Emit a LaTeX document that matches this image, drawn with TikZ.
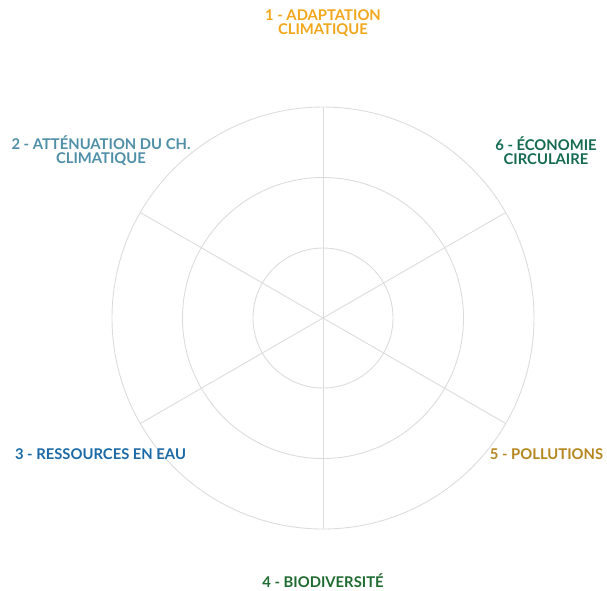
\documentclass[tikz,border=0pt]{standalone}
\usepackage{fontspec}
\setmainfont{Lato}
\usepackage{xcolor}
\usetikzlibrary{positioning}

\definecolor{adapt}{HTML}{F2A71B}
\definecolor{attenu}{HTML}{4F8FA8}
\definecolor{eau}{HTML}{1B69A5}
\definecolor{biodiv}{HTML}{1E6B30}
\definecolor{pollu}{HTML}{B5861E}
\definecolor{circu}{HTML}{146B50}
\definecolor{grille}{HTML}{DCDCDC}

\begin{document}
\begin{tikzpicture}[
  x=1pt, y=1pt,
  ring/.style={draw=grille, line width=0.9pt},
  spoke/.style={draw=grille, line width=0.9pt},
  axelabel/.style={font=\bfseries\fontsize{14.8}{14}\selectfont, align=center, inner sep=0pt, text=#1}
]
\useasboundingbox (0,0) rectangle (607,-590);

% ---------- Grille ----------
\coordinate (O) at (323,-318);
\foreach \r in {70,140.5,211}
  \draw[ring] (O) circle (\r);
\foreach \a in {30,90,...,330}
  \draw[spoke] (O) -- ++(\a:211);

% ---------- Axes ----------
\node[axelabel=adapt] (L1) at (323,-23) {1 - ADAPTATION\\CLIMATIQUE};
\node[axelabel=attenu] (L2) at (101,-151) {2 - ATTÉNUATION DU CH.\\CLIMATIQUE};
\node[axelabel=eau] (L3) at (100.5,-454) {3 - RESSOURCES EN EAU};
\node[axelabel=biodiv] (L4) at (323,-581) {4 - BIODIVERSITÉ};
\node[axelabel=pollu] (L5) at (546.5,-454) {5 - POLLUTIONS};
\node[axelabel=circu] (L6) at (546,-151) {6 - ÉCONOMIE\\CIRCULAIRE};

\end{tikzpicture}
\end{document}
